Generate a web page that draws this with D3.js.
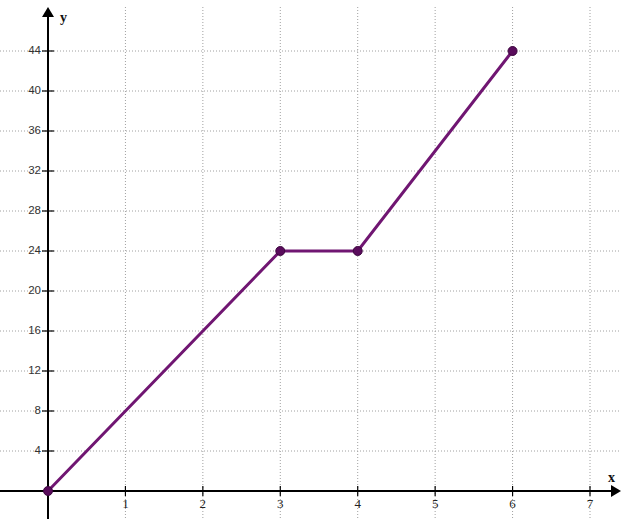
<!DOCTYPE html>
<html>
<head>
<meta charset="utf-8">
<script src="https://cdn.jsdelivr.net/npm/d3@7"></script>
<style>
  body { margin: 0; background: #fff; }
  svg { display: block; }
  .ylab { font-family: "Liberation Sans", Arial, sans-serif; font-size: 11.5px; fill: #333; }
  .xlab { font-family: "Liberation Serif", "Times New Roman", serif; font-size: 13px; fill: #222; }
  .axis-title { font-family: "Liberation Serif", "Times New Roman", serif; font-size: 14px; font-weight: bold; fill: #111; }
</style>
</head>
<body>
<div class="wrapper"></div>
<script>
const xValues = [0, 3, 4, 6]
const yValues = [0, 24, 24, 44]
const xTicks = [1, 2, 3, 4, 5, 6, 7]
const yTicks = [4, 8, 12, 16, 20, 24, 28, 32, 36, 40, 44]

const dimensions = { width: 627, height: 519 }

const xScale = d3.scaleLinear().domain([0, 7]).range([48, 590])
const yScale = d3.scaleLinear().domain([0, 44]).range([491, 51])

const svg = d3.select(".wrapper").append("svg")
    .attr("width", dimensions.width)
    .attr("height", dimensions.height)

// grid
svg.append("g").selectAll("line")
    .data(xTicks)
    .join("line")
    .attr("x1", d => xScale(d)).attr("x2", d => xScale(d))
    .attr("y1", 7).attr("y2", dimensions.height)
    .attr("stroke", "#a0a0a0")
    .attr("stroke-dasharray", "1,2")

svg.append("g").selectAll("line")
    .data(yTicks)
    .join("line")
    .attr("x1", 0).attr("x2", 619)
    .attr("y1", d => yScale(d)).attr("y2", d => yScale(d))
    .attr("stroke", "#a0a0a0")
    .attr("stroke-dasharray", "1,2")

// axes
const x0 = xScale(0), y0 = yScale(0)
svg.append("line")
    .attr("x1", x0).attr("x2", x0)
    .attr("y1", dimensions.height).attr("y2", 16)
    .attr("stroke", "#000").attr("stroke-width", 2)
svg.append("path")
    .attr("d", `M${x0},7 L${x0 - 6},17 L${x0 + 6},17 Z`)
    .attr("fill", "#000")

svg.append("line")
    .attr("x1", 0).attr("x2", 612)
    .attr("y1", y0).attr("y2", y0)
    .attr("stroke", "#000").attr("stroke-width", 2)
svg.append("path")
    .attr("d", `M621,${y0} L611,${y0 - 6} L611,${y0 + 6} Z`)
    .attr("fill", "#000")

// ticks + labels
svg.append("g").selectAll("line")
    .data(yTicks)
    .join("line")
    .attr("x1", x0 - 6).attr("x2", x0 + 6)
    .attr("y1", d => yScale(d)).attr("y2", d => yScale(d))
    .attr("stroke", "#000").attr("stroke-width", 1.2)
svg.append("g").selectAll("text")
    .data(yTicks)
    .join("text")
    .attr("class", "ylab")
    .attr("x", x0 - 7)
    .attr("y", d => yScale(d))
    .attr("text-anchor", "end")
    .attr("dominant-baseline", "middle")
    .text(d => d)

svg.append("g").selectAll("line")
    .data(xTicks)
    .join("line")
    .attr("x1", d => xScale(d)).attr("x2", d => xScale(d))
    .attr("y1", y0 - 5).attr("y2", y0 + 5)
    .attr("stroke", "#000").attr("stroke-width", 1.2)
svg.append("g").selectAll("text")
    .data(xTicks)
    .join("text")
    .attr("class", "xlab")
    .attr("x", d => xScale(d))
    .attr("y", y0 + 17)
    .attr("text-anchor", "middle")
    .text(d => d)

svg.append("text").attr("class", "axis-title")
    .attr("x", 60).attr("y", 22).text("y")
svg.append("text").attr("class", "axis-title")
    .attr("x", 608).attr("y", 482).text("x")

// data line
const points = xValues.map((x, i) => [x, yValues[i]])
const lineGenerator = d3.line()
    .x(d => xScale(d[0]))
    .y(d => yScale(d[1]))

svg.append("path")
    .attr("d", lineGenerator(points))
    .attr("fill", "none")
    .attr("stroke", "#701672")
    .attr("stroke-width", 3)

svg.append("g").selectAll("circle")
    .data(points)
    .join("circle")
    .attr("cx", d => xScale(d[0]))
    .attr("cy", d => yScale(d[1]))
    .attr("r", 4.5)
    .attr("fill", "#5a0c5c")
    .attr("stroke", "#3d063f")
    .attr("stroke-width", 1)
</script>
</body>
</html>
